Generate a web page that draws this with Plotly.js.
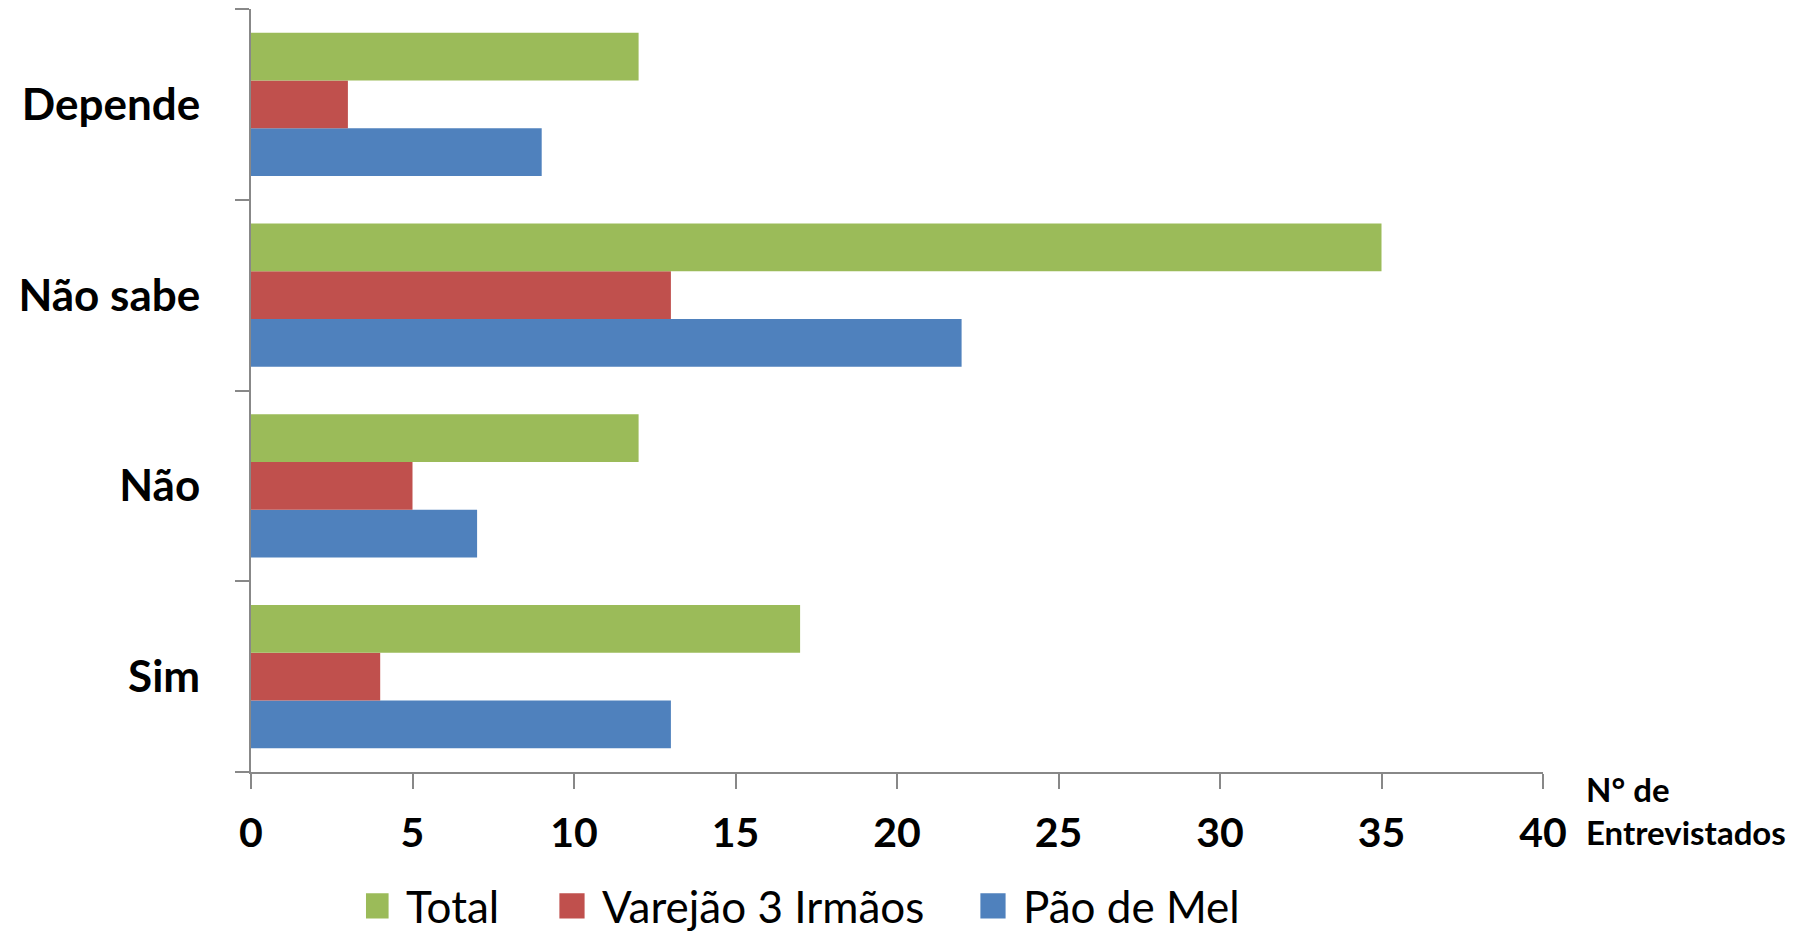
<!DOCTYPE html>
<html>
<head>
<meta charset="utf-8">
<script src="https://cdn.plot.ly/plotly-3.0.1.min.js"></script>
<style>html,body{margin:0;padding:0;background:#fff;}#chart{width:1804px;height:934px;}</style>
</head>
<body>
<div id="chart"></div>
<script>
const categories = ['Sim', 'Não', 'Não sabe', 'Depende'];
const paoDeMel = [13, 7, 22, 9];
const varejao = [4, 5, 13, 3];
const total = [17, 12, 35, 12];
const seriesNames = ['Pão de Mel', 'Varejão 3 Irmãos', 'Total'];
const xTicks = [0, 5, 10, 15, 20, 25, 30, 35, 40];
const axisTitle = 'N° de<br>Entrevistados';

const colors = ['#4F81BD', '#C0504D', '#9BBB59'];
const legendWidths = [260, 376, 151];
const values = [paoDeMel, varejao, total];
const traces = values.map((v, i) => ({
  type: 'bar', orientation: 'h', name: seriesNames[i],
  y: categories, x: v, marker: {color: colors[i], line: {width: 0}},
  legendwidth: legendWidths[i],
  hoverinfo: 'x+y'
}));

const layout = {
  width: 1804, height: 934,
  margin: {l: 251, r: 261, t: 9, b: 162, autoexpand: false},
  paper_bgcolor: '#fff', plot_bgcolor: '#fff',
  barmode: 'group', bargap: 0.25, bargroupgap: 0,
  font: {family: 'Lato, sans-serif', color: '#000'},
  xaxis: {
    range: [0, 40], tickvals: xTicks, ticktext: xTicks.map(String),
    showgrid: false, zeroline: false, showline: true, linecolor: '#888', linewidth: 2,
    ticks: 'outside', ticklen: 15, tickwidth: 2, tickcolor: '#888',
    ticklabelstandoff: 9,
    tickfont: {family: 'Lato, sans-serif', size: 41, color: '#000', weight: 'bold'}
  },
  yaxis: {
    type: 'category', categoryorder: 'array', categoryarray: categories,
    range: [-0.5, 3.5], tickson: 'boundaries',
    showgrid: false, zeroline: false, showline: true, linecolor: '#888', linewidth: 2,
    ticks: 'outside', ticklen: 14, tickwidth: 2, tickcolor: '#888',
    ticklabelstandoff: 40,
    tickfont: {family: 'Lato, sans-serif', size: 44, color: '#000', weight: 'bold'}
  },
  showlegend: true,
  legend: {
    orientation: 'h', traceorder: 'reversed',
    x: 0.089, xanchor: 'left', y: -0.176, yanchor: 'middle',
    font: {family: 'Lato, sans-serif', size: 44, color: '#000'},
    bgcolor: 'rgba(0,0,0,0)', itemclick: false
  },
  annotations: [{
    xref: 'paper', yref: 'paper', x: 1.032, y: 0.007,
    xanchor: 'left', yanchor: 'top', align: 'left', showarrow: false,
    text: axisTitle,
    font: {family: 'Lato, sans-serif', size: 33, color: '#000', weight: 'bold'}
  }]
};

Plotly.newPlot('chart', traces, layout, {displayModeBar: false, staticPlot: true}).then(() => {
  document.querySelectorAll('#chart .legend .legendpoints path').forEach(p => {
    p.setAttribute('transform', 'translate(10,0) scale(2.1)');
  });
});
</script>
</body>
</html>
